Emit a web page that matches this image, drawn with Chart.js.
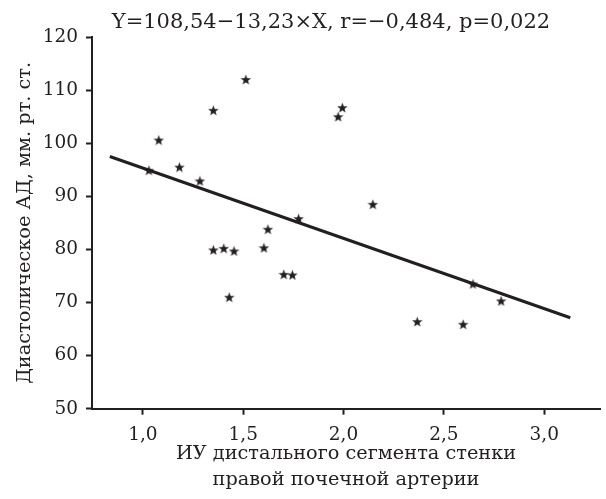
<!DOCTYPE html>
<html>
<head>
<meta charset="utf-8">
<script src="https://cdn.jsdelivr.net/npm/chart.js@4"></script>
<style>
  html, body { margin: 0; padding: 0; background: #fff; }
  #wrap { width: 606px; height: 499px; }
</style>
</head>
<body>
<div id="wrap"><canvas id="myChart" width="606" height="499"></canvas></div>
<script>
// scatter points
var pointsX = [1.030, 1.079, 1.182, 1.284, 1.351, 1.513, 1.973, 1.994, 2.146, 1.776, 1.623,
               2.645, 2.785, 2.367, 2.596, 1.351, 1.403, 1.454, 1.603, 1.702, 1.745, 1.430];
var pointsY = [94.9, 100.6, 95.5, 92.9, 106.2, 112.0, 105.0, 106.7, 88.5, 85.8, 83.8,
               73.5, 70.3, 66.4, 65.9, 79.9, 80.2, 79.7, 80.3, 75.3, 75.2, 71.0];

// regression line ends
var fitX = [0.835, 3.13];
var fitY = [97.49, 67.13];

var xTickValues = [1.0, 1.5, 2.0, 2.5, 3.0];
var titleText = "Y=108,54\u221213,23\u00d7X, r=\u22120,484, p=0,022";
var xTitle = ["ИУ дистального сегмента стенки", "правой почечной артерии"];
var yTitle = "Диастолическое АД, мм. рт. ст.";

var ink = '#231f20';
var fontName = '"DejaVu Serif", serif';

function makeStar(size) {
    var c = document.createElement('canvas');
    c.width = size; c.height = size;
    var g = c.getContext('2d');
    var cx = size / 2, cy = size / 2 + 0.5, ro = size / 2, ri = ro * 0.42;
    g.beginPath();
    for (var i = 0; i < 10; i++) {
        var r = i % 2 === 0 ? ro : ri;
        var a = -Math.PI / 2 + i * Math.PI / 5;
        g.lineTo(cx + r * Math.cos(a), cy + r * Math.sin(a));
    }
    g.closePath();
    g.fillStyle = ink;
    g.fill();
    return c;
}

var star = makeStar(11);

var pts = pointsX.map(function (x, i) { return { x: x, y: pointsY[i] }; });
var fit = fitX.map(function (x, i) { return { x: x, y: fitY[i] }; });

var titlePlugin = {
    id: 'eqTitle',
    afterDraw: function (chart) {
        var ctx = chart.ctx;
        ctx.save();
        ctx.font = '21px ' + fontName;
        ctx.fillStyle = ink;
        ctx.textAlign = 'center';
        ctx.textBaseline = 'alphabetic';
        ctx.fillText(titleText, 331, 28);
        ctx.restore();
    }
};

var ctx = document.getElementById('myChart').getContext('2d');
var chart = new Chart(ctx, {
    type: 'scatter',
    data: {
        datasets: [{
            data: fit,
            showLine: true,
            borderColor: ink,
            borderWidth: 3,
            pointRadius: 0,
            order: 2
        }, {
            data: pts,
            pointStyle: star,
            pointRadius: 5,
            backgroundColor: ink,
            borderColor: ink,
            order: 1
        }]
    },
    options: {
        responsive: false,
        animation: false,
        layout: { padding: { top: 37, right: 2, left: 0, bottom: 0 } },
        plugins: {
            legend: { display: false },
            tooltip: { enabled: false }
        },
        scales: {
            x: {
                type: 'linear',
                min: 0.7463,
                max: 3.278,
                afterFit: function (s) { s.height = 90.3; },
                afterBuildTicks: function (s) {
                    s.ticks = xTickValues.map(function (v) { return { value: v }; });
                },
                border: { display: true, color: ink, width: 2 },
                grid: { display: true, drawOnChartArea: false, tickLength: 6, tickColor: ink, tickWidth: 2 },
                ticks: {
                    color: ink,
                    padding: 9,
                    maxRotation: 0,
                    font: { family: fontName, size: 18.5 },
                    callback: function (v) { return v.toFixed(1).replace('.', ','); }
                },
                title: {
                    display: true,
                    text: xTitle,
                    color: ink,
                    font: { family: fontName, size: 19.3, lineHeight: 1.36 },
                    padding: { top: 0, bottom: 6 }
                }
            },
            y: {
                type: 'linear',
                min: 50,
                max: 120,
                afterFit: function (s) { s.width = 92; },
                border: { display: true, color: ink, width: 2 },
                grid: { display: true, drawOnChartArea: false, tickLength: 6, tickColor: ink, tickWidth: 2 },
                ticks: {
                    color: ink,
                    stepSize: 10,
                    padding: 8,
                    font: { family: fontName, size: 18.5 }
                },
                title: {
                    display: true,
                    text: yTitle,
                    color: ink,
                    font: { family: fontName, size: 19.3, lineHeight: 1.2 },
                    padding: { top: 13, bottom: 0 }
                }
            }
        }
    },
    plugins: [titlePlugin]
});
</script>
</body>
</html>
